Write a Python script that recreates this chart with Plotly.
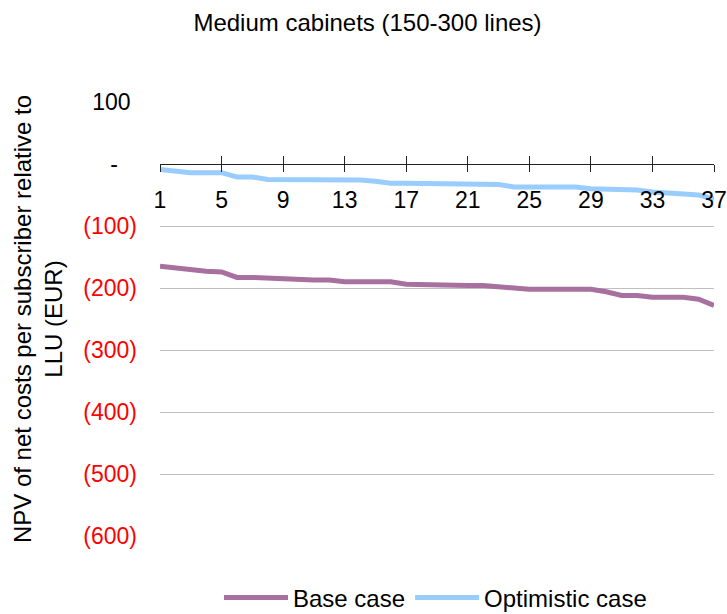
import plotly.graph_objects as go

title = "Medium cabinets (150-300 lines)"
categories = list(range(1, 38))
base_case = [-165, -168, -171, -173, -174, -183, -183, -184, -187, -187,
             -187, -187, -190, -190, -190, -190, -194, -195, -196, -196,
             -196, -196, -199, -200, -202, -202, -202, -202, -202, -206,
             -212, -212, -215, -215, -215, -218, -228]
optimistic_case = [-9, -12, -14, -14, -14, -21, -21, -25, -25, -25,
                   -25, -25, -25, -26, -28, -31, -31, -31, -31, -31,
                   -31, -33, -33, -37, -37, -36, -36, -37, -40, -40,
                   -40, -42, -45, -47, -50, -50, -56]
x_tick_vals = [1, 5, 9, 13, 17, 21, 25, 29, 33, 37]
y_tick_vals = [100, 0, -100, -200, -300, -400, -500, -600]
y_tick_text = ["100\u00a0", "-\u00a0\u00a0\u00a0",
               "<span style='color:red'>(100)</span>",
               "<span style='color:red'>(200)</span>",
               "<span style='color:red'>(300)</span>",
               "<span style='color:red'>(400)</span>",
               "<span style='color:red'>(500)</span>",
               "<span style='color:red'>(600)</span>"]
y_title = "NPV of net costs per subscriber relative to<br>LLU (EUR)"

FONT = "Arial, 'Liberation Sans', sans-serif"
FS = 23
FS_BIG = 24
y_min, y_max = -600, 100
axis_pos = (0 - y_min) / (y_max - y_min)

fig = go.Figure()
fig.add_trace(go.Scatter(x=categories, y=base_case, mode="lines", name="Base case",
                         line=dict(color="#A8709E", width=5)))
fig.add_trace(go.Scatter(x=categories, y=optimistic_case, mode="lines", name="Optimistic case",
                         line=dict(color="#99CCFF", width=5)))

fig.update_layout(
    width=727, height=614,
    margin=dict(l=160, r=13, t=102, b=78, autoexpand=False),
    paper_bgcolor="white", plot_bgcolor="white",
    font=dict(family=FONT, size=FS, color="black"),
    title=dict(text=title, x=367.5 / 727, xref="container", xanchor="center",
               y=1 - 23 / 614, yanchor="middle", yref="container",
               font=dict(family=FONT, size=FS_BIG, color="black")),
    showlegend=True,
    legend=dict(orientation="h", x=435.5 / 727, xanchor="center", xref="container",
                y=1 - 598 / 614, yanchor="middle", yref="container",
                itemwidth=64, tracegroupgap=0,
                font=dict(family=FONT, size=FS_BIG, color="black")),
    xaxis=dict(range=[1, 37], tickmode="array", tickvals=x_tick_vals,
               ticktext=[str(v) for v in x_tick_vals], automargin=False,
               anchor="free", position=axis_pos, showline=True, linecolor="#222",
               linewidth=1, ticks="outside", ticklen=7, tickcolor="#222",
               ticklabelstandoff=8,
               showgrid=False, zeroline=False,
               tickfont=dict(family=FONT, size=FS, color="black")),
    xaxis2=dict(range=[1, 37], tickmode="array", tickvals=x_tick_vals,
                overlaying="x", anchor="free", position=axis_pos, side="bottom",
                showline=False, ticks="inside", ticklen=8, tickcolor="#222",
                showticklabels=False, showgrid=False, zeroline=False, automargin=False),
    yaxis=dict(range=[y_min, y_max], tickmode="array", tickvals=y_tick_vals,
               ticktext=y_tick_text, showgrid=True, gridcolor="#BFBFBF", gridwidth=1,
               zeroline=False, showline=False, ticks="", ticklabelstandoff=22,
               automargin=False,
               tickfont=dict(family=FONT, size=FS, color="black"),
               title=dict(text=y_title, standoff=13,
                          font=dict(family=FONT, size=FS_BIG, color="black"))),
)
# invisible trace to activate xaxis2
fig.add_trace(go.Scatter(x=[categories[0]], y=[None], xaxis="x2", showlegend=False,
                         hoverinfo="skip"))

fig.write_html("out.html", config={"displayModeBar": False},
               post_script="document.body.style.margin='0';")
